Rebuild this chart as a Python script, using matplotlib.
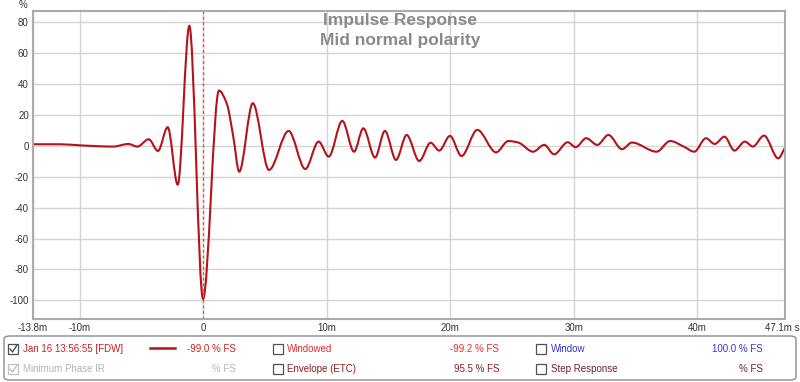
import numpy as np
import matplotlib
matplotlib.use("Agg")
import matplotlib.pyplot as plt
import matplotlib.transforms as mtransforms
from matplotlib.path import Path
from matplotlib.patches import PathPatch, FancyBboxPatch, Rectangle
from matplotlib.lines import Line2D

plt.rcParams['font.family'] = ['Liberation Sans', 'DejaVu Sans']
plt.rcParams['axes.unicode_minus'] = False

# impulse response: time (ms) and level (% FS) at turning points
t_ms = [-13.8, -11.6, -10.0, -7.3, -6.08, -5.35, -4.43, -3.68, -2.89, -2.08,
        -1.14, -0.03, 1.26, 1.9, 2.42, 2.9, 4.0, 5.31, 6.9, 8.25, 9.33,
        10.15, 11.25, 12.2, 12.95, 13.9, 14.7, 15.6, 16.46, 17.48, 18.4,
        19.1, 19.97, 20.9, 22.18, 23.7, 24.7, 25.5, 26.7, 27.6, 28.4,
        29.5, 30.15, 31.0, 31.9, 32.8, 33.9, 34.7, 36.7, 37.8, 38.9,
        39.75, 40.7, 41.4, 42.2, 43.0, 43.85, 44.5, 45.4, 46.55, 47.1]
level = [0.9, 0.9, 0.2, -0.6, 1.1, -0.6, 4.1, -3.4, 11.9, -25.2,
         77.4, -99.0, 35.6, 27.0, 5.8, -16.8, 27.4, -15.7, 9.5, -15.1, 2.6,
         -7.1, 16.0, -3.9, 11.2, -7.7, 9.5, -9.2, 6.9, -9.9, 1.9,
         -3.2, 6.3, -6.7, 10.2, -4.3, 3.0, 2.0, -3.9, 0.5, -5.6,
         2.2, -1.0, 4.8, 0.5, 6.9, -2.3, 2.0, -3.9, 3.0, -0.6,
         -3.9, 4.8, 1.1, 5.8, -3.2, 2.6, -0.6, 6.5, -8.2, -1.3]

x_ticks = [-13.8, -10, 0, 10, 20, 30, 40, 47.1]
x_labels = ['-13.8m', '-10m', '0', '10m', '20m', '30m', '40m', '47.1m s']
y_ticks = [-100, -80, -60, -40, -20, 0, 20, 40, 60, 80]

W, H = 800, 382


def smooth_path(t, v):
    # monotone cubic through the read points, handed to matplotlib as bezier segments
    t = np.asarray(t, float)
    v = np.asarray(v, float)
    h = np.diff(t)
    d = np.diff(v) / h
    m = np.zeros_like(v)
    for i in range(1, len(v) - 1):
        if d[i - 1] * d[i] > 0:
            w1 = 2 * h[i] + h[i - 1]
            w2 = h[i] + 2 * h[i - 1]
            m[i] = (w1 + w2) / (w1 / d[i - 1] + w2 / d[i])
    m[-1] = d[-1]
    verts = [(t[0], v[0])]
    codes = [Path.MOVETO]
    for i in range(len(h)):
        verts += [(t[i] + h[i] / 3, v[i] + m[i] * h[i] / 3),
                  (t[i + 1] - h[i] / 3, v[i + 1] - m[i + 1] * h[i] / 3),
                  (t[i + 1], v[i + 1])]
        codes += [Path.CURVE4] * 3
    return Path(verts, codes)


def fx(px):
    return px / W


def fy(py):
    return 1 - py / H


fig = plt.figure(figsize=(W / 100, H / 100), dpi=100)
ax = fig.add_axes([fx(33), fy(319), fx(785) - fx(33), fy(11) - fy(319)])
ax.set_xlim(-13.8, 47.1)
ax.set_ylim(-112, 87)

ax.set_xticks(x_ticks)
ax.set_xticklabels(x_labels)
ax.set_yticks(y_ticks)
ax.tick_params(length=0, labelsize=7, colors='#333333', pad=3)
# last label sits a bit left so it stays inside the picture
last = ax.get_xticklabels()[-1]
last.set_transform(last.get_transform() +
                   mtransforms.ScaledTranslation(-3 / 100, 0, fig.dpi_scale_trans))
ax.grid(True, color='#d4d4d4', lw=1)
ax.set_axisbelow(True)
for s in ax.spines.values():
    s.set_color('#ababab')
    s.set_linewidth(1.5)

ax.axvline(0, color='#e05050', lw=1, ls=(0, (2, 2)))
ax.add_patch(PathPatch(smooth_path(t_ms, level), fill=False,
                       edgecolor='#b3141a', lw=1.5, capstyle='round'))

fig.text(fx(400), fy(20), 'Impulse Response', ha='center', va='center',
         fontsize=12.5, fontweight='bold', color='#8a8a8a')
fig.text(fx(400), fy(40), 'Mid normal polarity', ha='center', va='center',
         fontsize=12.5, fontweight='bold', color='#8a8a8a')

fig.text(fx(23), fy(5), '%', fontsize=7, color='#333333', ha='center', va='center')

# legend panel
fig.patches.append(FancyBboxPatch((fx(4), fy(380)), fx(792), fy(336) - fy(380),
                                  boxstyle='round,pad=0,rounding_size=0.008',
                                  transform=fig.transFigure, facecolor='white',
                                  edgecolor='#8c8c8c', lw=1))


def checkbox(x, y, checked=False, col='#505050'):
    fig.patches.append(Rectangle((fx(x), fy(y + 5)), 10 / W, 10 / H,
                                 transform=fig.transFigure, facecolor='white',
                                 edgecolor=col, lw=0.9))
    if checked:
        fig.lines.append(Line2D([fx(x + 2), fx(x + 4.5), fx(x + 9)],
                                [fy(y), fy(y + 3), fy(y - 4)],
                                transform=fig.transFigure, color=col, lw=1))


rows = [349, 369]
checkbox(8, rows[0], True, '#505050')
checkbox(8, rows[1], True, '#c0c0c0')
checkbox(273, rows[0])
checkbox(273, rows[1])
checkbox(536, rows[0])
checkbox(536, rows[1])

items = [
    (23, rows[0], 'Jan 16 13:56:55 [FDW]', '#cc2020', 236, '-99.0 % FS'),
    (23, rows[1], 'Minimum Phase IR', '#b4b4b4', 236, '% FS'),
    (287, rows[0], 'Windowed', '#e03030', 499, '-99.2 % FS'),
    (287, rows[1], 'Envelope (ETC)', '#8e1c1c', 499, '95.5 % FS'),
    (551, rows[0], 'Window', '#3434d4', 763, '100.0 % FS'),
    (551, rows[1], 'Step Response', '#6e2424', 763, '% FS'),
]
for x, y, name, col, xr, val in items:
    fig.text(fx(x), fy(y), name, fontsize=7, color=col, ha='left', va='center')
    fig.text(fx(xr), fy(y), val, fontsize=7, color=col, ha='right', va='center')

fig.lines.append(Line2D([fx(150), fx(175)], [fy(348), fy(348)],
                        transform=fig.transFigure, color='#b3141a', lw=1.8))

fig.savefig('out.png', dpi=100)
